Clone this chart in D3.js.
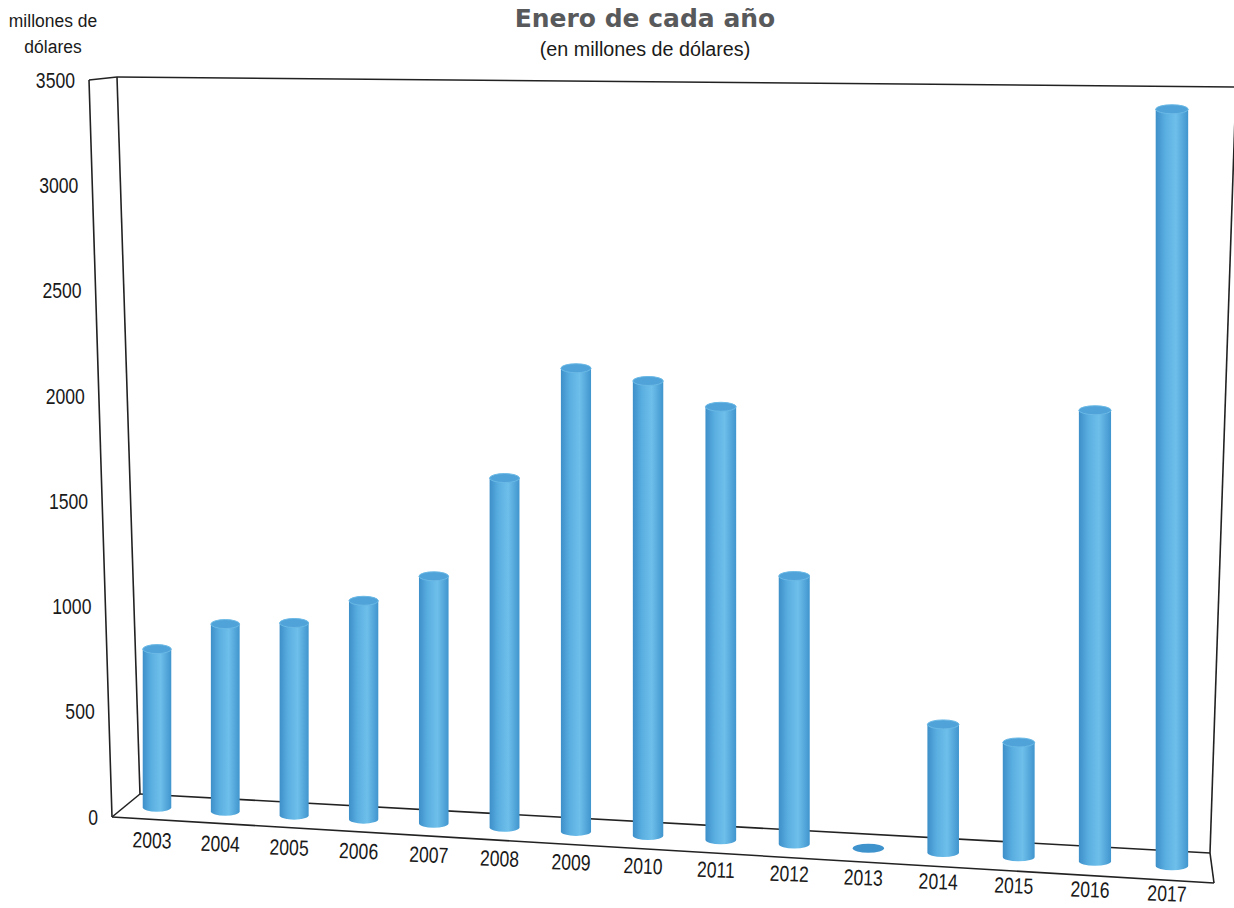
<!DOCTYPE html>
<html>
<head>
<meta charset="utf-8">
<script src="https://cdn.jsdelivr.net/npm/d3@7"></script>
<style>
  body { margin: 0; background: #fff; }
  svg { display: block; }
  text { font-family: "Liberation Sans", Arial, sans-serif; fill: #1a1a1a; }
</style>
</head>
<body>
<div id="chart"></div>
<script>
// data
const years = ["2003", "2004", "2005", "2006", "2007", "2008", "2009", "2010",
               "2011", "2012", "2013", "2014", "2015", "2016", "2017"];
const values = [760, 895, 915, 1035, 1165, 1640, 2165, 2115, 2005, 1235, 5, 585, 520, 2040, 3405];
const yTicks = [0, 500, 1000, 1500, 2000, 2500, 3000, 3500];

const title = "Enero de cada año";
const subtitle = "(en millones de dólares)";
const unitLines = ["millones de", "dólares"];

const W = 1234, H = 908;

// frame corners of the 3d box (back wall and front plane)
const back = { tl: [117, 77], tr: [1236, 87], bl: [140, 794], br: [1210, 853] };
const front = { tl: [89, 80], tr: [1242, 90], bl: [112, 817], br: [1214, 883] };

const lerp = (a, b, k) => [a[0] + (b[0] - a[0]) * k, a[1] + (b[1] - a[1]) * k];
function plane(c, t, f) {
    return lerp(lerp(c.bl, c.br, t), lerp(c.tl, c.tr, t), f);
}
// t: 0..1 along the floor, f: 0..1 of value range, d: 0 = back, 1 = front
function P(t, f, d) {
    return lerp(plane(back, t, f), plane(front, t, f), d);
}

// category index -> position along the floor, with a little perspective
const idx = d3.scalePoint().domain(years).range([0, years.length - 1]);
const persp = u => ((67.25 * u + 157) / (1 - 0.004476 * u) - 126) / 1086;
const tOf = yr => persp(idx(yr));

const y = d3.scaleLinear()
    .domain([0, 3500])
    .range([0, 1]);

const svg = d3.select("#chart").append("svg")
    .attr("width", W)
    .attr("height", H);

// gradient for the cylinders
const defs = svg.append("defs");
const grad = defs.append("linearGradient")
    .attr("id", "cyl")
    .attr("x1", "0%").attr("x2", "100%")
    .attr("y1", "0%").attr("y2", "0%");
grad.append("stop").attr("offset", "0%").attr("stop-color", "#3d8fc9");
grad.append("stop").attr("offset", "30%").attr("stop-color", "#5aafe1");
grad.append("stop").attr("offset", "62%").attr("stop-color", "#6ebfea");
grad.append("stop").attr("offset", "100%").attr("stop-color", "#4095ce");

// titles
svg.append("text")
    .attr("x", 645).attr("y", 27)
    .attr("text-anchor", "middle")
    .style("font-family", "'DejaVu Sans', sans-serif")
    .style("font-weight", "bold")
    .style("font-size", "25px")
    .style("fill", "#58595b")
    .text(title);

svg.append("text")
    .attr("transform", "translate(645, 56) scale(0.94, 1)")
    .attr("text-anchor", "middle")
    .style("font-size", "21px")
    .text(subtitle);

svg.selectAll(".unit")
    .data(unitLines)
    .enter()
    .append("text")
    .attr("class", "unit")
    .attr("transform", (d, i) => `translate(53, ${27 + i * 26}) scale(0.92, 1)`)
    .attr("text-anchor", "middle")
    .style("font-size", "19px")
    .text(d => d);

// frame lines
const line = d3.line();
const frame = [
    [front.tl, front.bl],
    [front.tl, back.tl],
    [back.tl, back.bl],
    [back.tl, back.tr],
    [front.bl, back.bl],
    [back.bl, back.br],
    [front.bl, front.br],
    [back.br, front.br],
    [back.br, back.tr]
];
svg.append("g")
    .selectAll("path")
    .data(frame)
    .enter()
    .append("path")
    .attr("d", d => line(d))
    .attr("fill", "none")
    .attr("stroke", "#222")
    .attr("stroke-width", 1.6);

// y tick labels along the front-left edge
svg.append("g")
    .selectAll("text")
    .data(yTicks)
    .enter()
    .append("text")
    .attr("transform", d => {
        const p = P(0, y(d), 1);
        return `translate(${p[0] - 14}, ${p[1]}) scale(0.8, 1)`;
    })
    .attr("dy", "0.35em")
    .attr("text-anchor", "end")
    .style("font-size", "22px")
    .text(d => d);

// year labels below the front floor edge
const floorAngle = Math.atan2(front.br[1] - front.bl[1], front.br[0] - front.bl[0]) * 180 / Math.PI;
svg.append("g")
    .selectAll("text")
    .data(years)
    .enter()
    .append("text")
    .attr("transform", d => {
        const t = tOf(d);
        const px = P(t, 0, 0.5)[0] - 5;
        const edge = P((px - front.bl[0]) / (front.br[0] - front.bl[0]), 0, 1)[1];
        return `translate(${px}, ${edge + 21 - 8 * t}) rotate(${floorAngle * 0.6}) scale(0.8, 1)`;
    })
    .attr("dy", "0.35em")
    .attr("text-anchor", "middle")
    .style("font-size", "22px")
    .text(d => d);

// cylinders
const depth = 0.5;
const bars = years.map((yr, i) => ({ year: yr, value: values[i] }));
const g = svg.append("g");
bars.forEach(d => {
    const u = idx(d.year);
    const t = tOf(d.year);
    const b0 = P(t, 0, depth);
    const rx = (P(persp(u + 0.21), 0, depth)[0] - P(persp(u - 0.21), 0, depth)[0]) / 2;
    const ry = 4.5;
    const cx = b0[0];
    const top = P(t, y(d.value), depth)[1];
    const cg = g.append("g");
    if (d.value > 20) {
        // body with a rounded bottom, then the top cap
        const body = `M${cx - rx},${top} L${cx - rx},${b0[1]} A${rx},${ry} 0 0 0 ${cx + rx},${b0[1]} L${cx + rx},${top} Z`;
        cg.append("path")
            .attr("d", body)
            .attr("fill", "url(#cyl)");
        cg.append("ellipse")
            .attr("cx", cx).attr("cy", top)
            .attr("rx", rx).attr("ry", ry)
            .attr("fill", "#50a3d9")
            .attr("stroke", "#6ab9e6")
            .attr("stroke-width", 1);
    } else {
        cg.append("ellipse")
            .attr("cx", cx).attr("cy", b0[1])
            .attr("rx", rx).attr("ry", ry)
            .attr("fill", "#3f93cd");
    }
});
</script>
</body>
</html>
